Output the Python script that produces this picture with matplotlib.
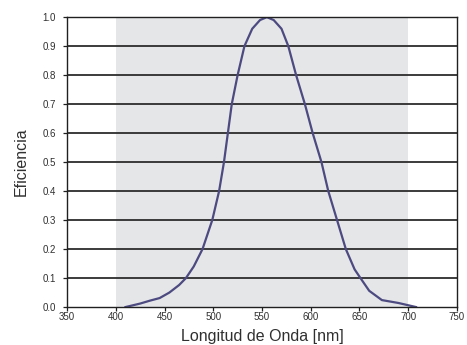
import matplotlib.pyplot as plt

# curva de eficiencia
longitud = [410, 425, 435, 445, 455, 465, 472, 480, 489, 499, 506, 511, 515, 519,
            525, 532, 540, 548, 555, 562, 570, 577, 585, 594, 602, 611, 618, 627,
            636, 645, 651, 660, 673, 690, 708]
eficiencia = [0.0, 0.012, 0.022, 0.031, 0.05, 0.076, 0.1, 0.14, 0.2, 0.3, 0.4, 0.5,
              0.6, 0.7, 0.8, 0.9, 0.96, 0.99, 1.0, 0.99, 0.96, 0.9, 0.8, 0.7, 0.6,
              0.5, 0.4, 0.3, 0.2, 0.13, 0.1, 0.056, 0.024, 0.014, 0.0]

xticks = [350, 400, 450, 500, 550, 600, 650, 700, 750]
yticks = [0.0, 0.1, 0.2, 0.3, 0.4, 0.5, 0.6, 0.7, 0.8, 0.9, 1.0]
visible = (400, 700)

plt.rcParams["font.family"] = ["Liberation Sans", "DejaVu Sans"]

fig = plt.figure(figsize=(4.67, 3.45), dpi=100)
ax = fig.add_axes([0.1435, 0.110, 0.835, 0.8403])

ax.axvspan(visible[0], visible[1], color="#e5e6e8", zorder=0, lw=0)
for y in yticks[1:]:
    ax.axhline(y, color="#2c2c2c", lw=1.3, zorder=1)
ax.plot(longitud, eficiencia, color="#4c4a80", lw=1.6, zorder=2)

ax.set_xlim(350, 750)
ax.set_ylim(0, 1.0)
ax.set_xticks(xticks)
ax.set_yticks(yticks)
ax.set_yticklabels(["%.1f" % v for v in yticks])
ax.tick_params(axis="both", labelsize=7, length=3, width=0.9, color="#202020",
               labelcolor="#303030")
ax.tick_params(axis="x", pad=0.8)
ax.tick_params(axis="y", pad=5)

for s in ax.spines.values():
    s.set_color("#202020")
    s.set_linewidth(1.0)

ax.set_xlabel("Longitud de Onda [nm]", fontsize=11.5, color="#303030", labelpad=5)
ax.set_ylabel("Eficiencia", fontsize=11.5, color="#303030", labelpad=10)

fig.savefig("out.png", dpi=100)
